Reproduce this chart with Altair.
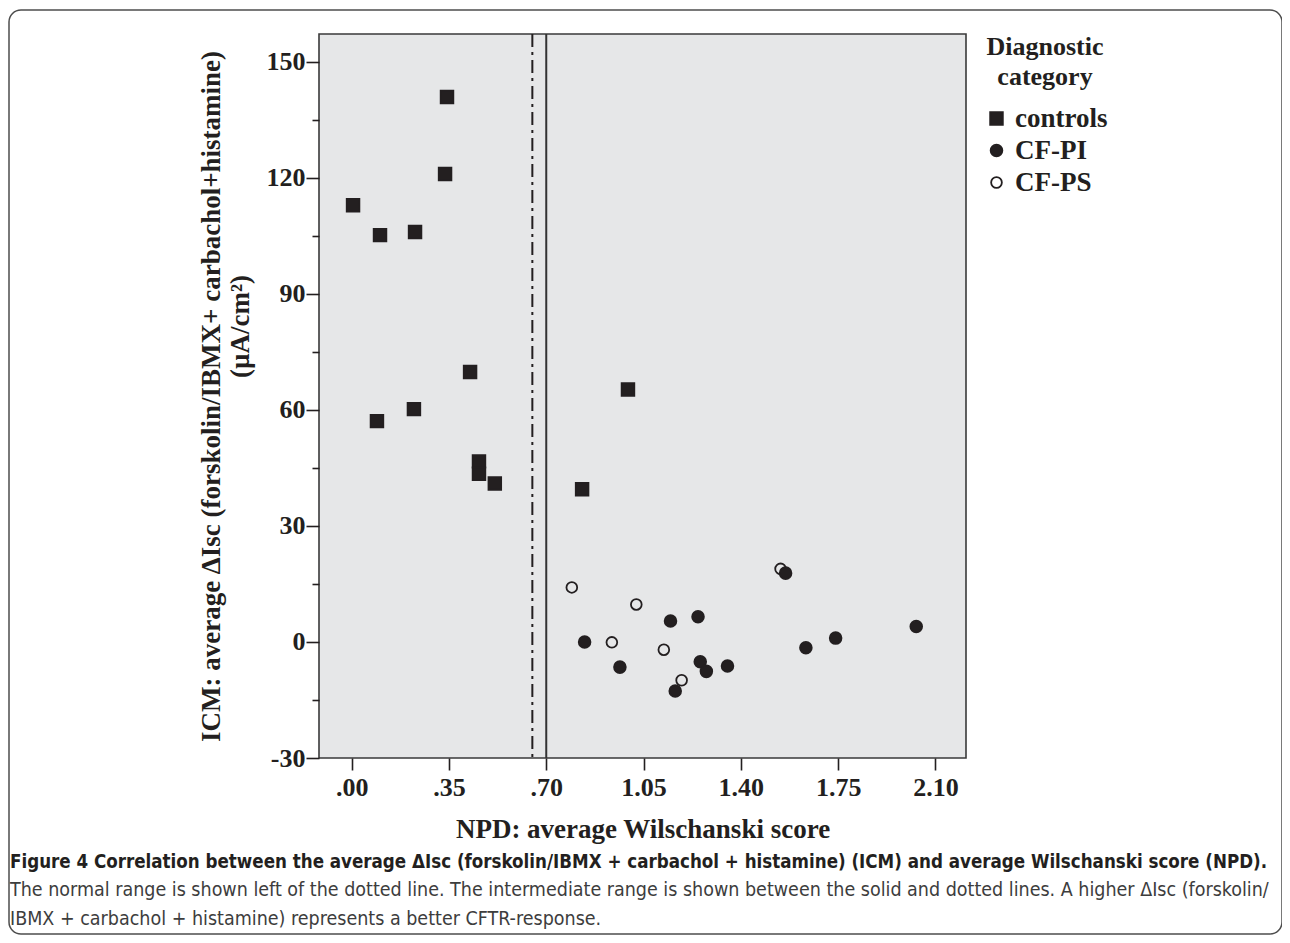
import altair as alt
import pandas as pd

# ---- data ----
categories = ["controls", "CF-PI", "CF-PS"]

controls_x = [0.343, 0.336, 0.005, 0.102, 0.228, 0.426, 0.224, 0.091, 0.458, 0.458, 0.515, 0.829, 0.994]
controls_y = [140.9, 121.0, 112.9, 105.2, 106.0, 69.8, 60.2, 57.1, 46.7, 43.5, 41.0, 39.5, 65.3]

cfps_x = [0.792, 1.024, 0.936, 1.123, 1.187, 1.543]
cfps_y = [14.1, 9.7, -0.1, -2.0, -9.9, 18.9]

cfpi_x = [0.838, 0.965, 1.147, 1.246, 1.254, 1.276, 1.352, 1.164, 1.561, 1.634, 1.741, 2.031]
cfpi_y = [0.0, -6.5, 5.4, 6.5, -5.1, -7.6, -6.2, -12.7, 17.8, -1.5, 1.0, 4.0]

normal_limit = [0.65]        # dotted line
intermediate_limit = [0.70]  # solid line

x_ticks = [0.0, 0.35, 0.70, 1.05, 1.40, 1.75, 2.10]
y_ticks = [-30, -15, 0, 15, 30, 45, 60, 75, 90, 105, 120, 135, 150]

caption_title = ("Figure 4 Correlation between the average \u0394Isc (forskolin/IBMX + carbachol + histamine) "
                 "(ICM) and average Wilschanski score (NPD).")
caption_lines = [
    "The normal range is shown left of the dotted line. The intermediate range is shown between the solid and dotted lines. A higher \u0394Isc (forskolin/",
    "IBMX + carbachol + histamine) represents a better CFTR-response.",
]

# ---- build table ----
rows = []
for x, y in zip(controls_x, controls_y):
    rows.append({"npd": x, "icm": y, "category": "controls"})
for x, y in zip(cfps_x, cfps_y):
    rows.append({"npd": x, "icm": y, "category": "CF-PS"})
for x, y in zip(cfpi_x, cfpi_y):
    rows.append({"npd": x, "icm": y, "category": "CF-PI"})
df = pd.DataFrame(rows)
df["draw"] = range(len(df))

serif = "Liberation Serif"
narrow = "DejaVu Sans Condensed, Liberation Sans"
ink = "#231f20"

x_scale = alt.Scale(domain=[-0.1175, 2.21], nice=False, zero=False)
y_scale = alt.Scale(domain=[-30, 157.2], nice=False, zero=False)

x_axis = alt.Axis(
    title="NPD: average Wilschanski score",
    values=x_ticks,
    labelExpr="datum.value < 1 ? substring(format(datum.value, '.2f'), 1) : format(datum.value, '.2f')",
    tickSize=12, tickWidth=1.6, tickColor=ink,
    labelPadding=4, titlePadding=16,
    domain=False, grid=False,
    labelFont=serif, labelFontSize=26, labelFontWeight="bold", labelColor=ink,
    titleFont=serif, titleFontSize=27, titleFontWeight="bold", titleColor=ink,
)

y_axis = alt.Axis(
    title=["ICM: average \u0394Isc (forskolin/IBMX+ carbachol+histamine)",
           "\u2800" * 7 + "(\u00b5A/cm\u00b2)"],
    values=y_ticks,
    labelExpr="datum.value % 30 === 0 ? '' + datum.value : ''",
    tickSize={"condition": {"test": "datum.value % 30 === 0", "value": 13}, "value": 7},
    tickWidth=1.6, tickColor=ink,
    labelPadding=1, titlePadding=12,
    domain=False, grid=False,
    labelFont=serif, labelFontSize=26, labelFontWeight="bold", labelColor=ink,
    titleFont=serif, titleFontSize=27, titleFontWeight="bold", titleColor=ink,
    titleLineHeight=29,
)

leg = alt.Legend(
    title=["Diagnostic", "category"], orient="right", offset=17,
    titleFont=serif, titleFontSize=26, titleFontWeight="bold", titleColor=ink,
    titleAlign="center", titleAnchor="middle", titleLineHeight=30, titlePadding=15,
    labelFont=serif, labelFontSize=27, labelFontWeight="bold", labelColor=ink,
    labelOffset=5, rowPadding=4,
    symbolStrokeWidth=1.8,
)

frame = alt.Chart(pd.DataFrame({"f": [0]})).mark_rect(
    fill="transparent", stroke="#4d4d4d", strokeWidth=1.5, cornerRadius=12
).encode(x=alt.value(-310), x2=alt.value(963), y=alt.value(-24), y2=alt.value(900))

dotted = alt.Chart(pd.DataFrame({"npd": normal_limit})).mark_rule(
    color=ink, strokeWidth=2, strokeDash=[13, 5, 3, 5]
).encode(x=alt.X("npd:Q", scale=x_scale, axis=x_axis))

solid = alt.Chart(pd.DataFrame({"npd": intermediate_limit})).mark_rule(
    color="#333333", strokeWidth=2
).encode(x=alt.X("npd:Q", scale=x_scale))

points = alt.Chart(df).mark_point(
    filled=True, strokeWidth=1.8, opacity=1
).encode(
    x=alt.X("npd:Q", scale=x_scale, axis=x_axis),
    y=alt.Y("icm:Q", scale=y_scale, axis=y_axis),
    shape=alt.Shape("category:N", scale=alt.Scale(domain=categories, range=["square", "circle", "circle"]), legend=leg),
    fill=alt.Fill("category:N", scale=alt.Scale(domain=categories, range=[ink, ink, "transparent"]), legend=leg),
    stroke=alt.Stroke("category:N", scale=alt.Scale(domain=categories, range=[ink, ink, ink]), legend=leg),
    size=alt.Size("category:N", scale=alt.Scale(domain=categories, range=[160, 115, 140]), legend=leg),
    order=alt.Order("draw:Q"),
)

chart = alt.layer(frame, dotted, solid, points).properties(
    width=647, height=724,
    autosize=alt.AutoSizeParams(type="none"),
    padding={"left": 311, "top": 26, "right": 316, "bottom": 177},
    title=alt.TitleParams(
        text=caption_title, subtitle=caption_lines,
        orient="bottom", anchor="start", frame="group", dx=-309, offset=-82,
        font=narrow, fontSize=18.6, fontWeight="bold", color=ink,
        subtitleFont=narrow, subtitleFontSize=19.5, subtitleFontWeight="normal",
        subtitleColor="#3d3d3d", subtitlePadding=10, subtitleLineHeight=29,
    ),
).configure_view(
    fill="#e6e7e8", stroke="#3a3a3a", strokeWidth=1.6
)

chart.save("out.html", embed_options={"renderer": "svg", "actions": False})
